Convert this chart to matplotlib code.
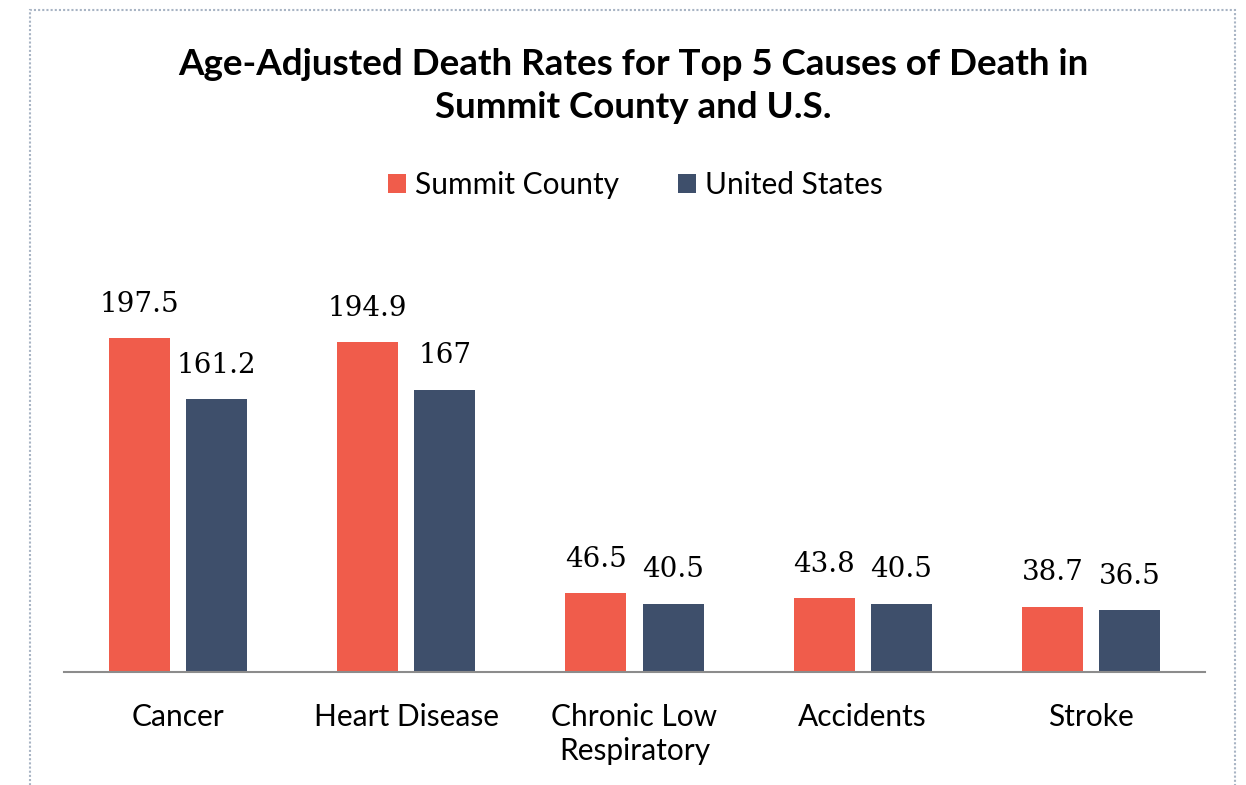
import numpy as np
import matplotlib.pyplot as plt
from matplotlib.patches import Rectangle

# data
categories = ["Cancer", "Heart Disease", "Chronic Low\nRespiratory", "Accidents", "Stroke"]
summit = [197.5, 194.9, 46.5, 43.8, 38.7]
us = [161.2, 167, 40.5, 40.5, 36.5]
summit_labels = ["197.5", "194.9", "46.5", "43.8", "38.7"]
us_labels = ["161.2", "167", "40.5", "40.5", "36.5"]

red = "#F05C4B"
blue = "#3E4F6B"

fig = plt.figure(figsize=(12.46, 7.85), dpi=100)

# dotted chart border
fig.patches.append(Rectangle((30 / 1246, -0.01), 1205 / 1246, 1 - 10 / 785 + 0.01,
                             transform=fig.transFigure, fill=False,
                             edgecolor="#A8B4C4", linewidth=1.5, linestyle=(0, (1, 1))))

ax = fig.add_axes([64 / 1246, 1 - 672 / 785, 1141 / 1246, 250 * 1.691 / 785])
x = np.arange(len(categories))
w = 0.267
off = 0.169
ax.bar(x - off, summit, w, color=red, label="Summit County")
ax.bar(x + off, us, w, color=blue, label="United States")

for i in range(len(categories)):
    ax.text(x[i] - off, summit[i] + 12, summit_labels[i], ha="center", va="bottom",
            fontsize=20, family="DejaVu Serif")
    ax.text(x[i] + off, us[i] + 12, us_labels[i], ha="center", va="bottom",
            fontsize=20, family="DejaVu Serif")

ax.set_xlim(-0.5, len(categories) - 0.5)
ax.set_ylim(0, 250)
ax.set_yticks([])
ax.set_xticks(x)
ax.set_xticklabels(categories, fontsize=21.5, family="Lato", linespacing=1.3)
ax.tick_params(axis="x", length=0, pad=22)
for s in ["top", "left", "right"]:
    ax.spines[s].set_visible(False)
ax.spines["bottom"].set_color("#8C8C8C")
ax.spines["bottom"].set_linewidth(1.5)

fig.text(0.508, 1 - 86 / 785, "Age-Adjusted Death Rates for Top 5 Causes of Death in\nSummit County and U.S.",
         ha="center", va="center", fontsize=26.5, fontweight="bold", family="Lato", linespacing=1.35)

fig.legend(loc="center", bbox_to_anchor=(0.51, 1 - 185 / 785), ncol=2, frameon=False,
           prop={"family": "Lato", "size": 21.5}, handlelength=0.6, handleheight=0.6,
           handletextpad=0.3, columnspacing=2.0)

plt.savefig("out.png", dpi=100)
